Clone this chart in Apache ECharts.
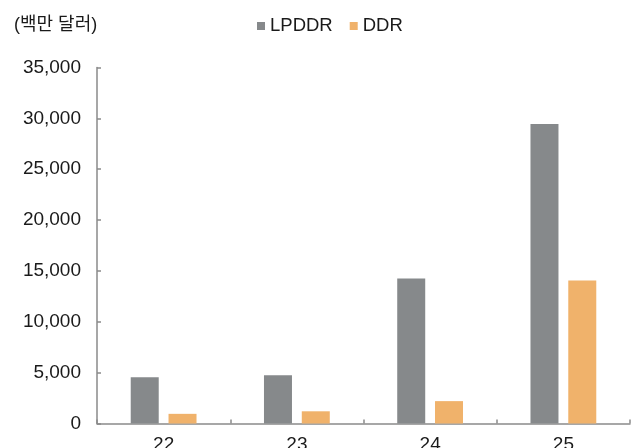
<!DOCTYPE html>
<html>
<head>
<meta charset="utf-8">
<script src="https://cdn.jsdelivr.net/npm/echarts@6/dist/echarts.min.js"></script>
<style>
html,body{margin:0;padding:0;background:#fff;}
#c{width:639px;height:448px;}
</style>
</head>
<body>
<div id="c"></div>
<script>
const categories = ['22', '23', '24', '25'];
const lpddr = [4550, 4750, 14250, 29450];
const ddr = [950, 1200, 2200, 14050];
const yTicks = [0, 5000, 10000, 15000, 20000, 25000, 30000, 35000];
const unitLabel = '(백만 달러)';
const seriesNames = ['LPDDR', 'DDR'];

const FONT = "'Liberation Sans', 'Noto Sans CJK KR', sans-serif";
const chart = echarts.init(document.getElementById('c'), null, {renderer: 'canvas'});
chart.setOption({
  animation: false,
  backgroundColor: '#ffffff',
  title: {
    text: unitLabel,
    left: 9,
    top: 11,
    textStyle: {fontFamily: FONT, fontSize: 18, fontWeight: 'normal', color: '#1a1a1a'}
  },
  legend: {
    data: seriesNames,
    left: 252,
    top: 11,
    icon: 'rect',
    itemWidth: 8,
    itemHeight: 8,
    itemGap: 17,
    textStyle: {fontFamily: FONT, fontSize: 18.5, color: '#1a1a1a', lineHeight: 20}
  },
  grid: {left: 97, right: 9, top: 67.5, bottom: 24.5, containLabel: false, outerBoundsMode: 'none'},
  xAxis: {
    type: 'category',
    data: categories,
    axisLine: {lineStyle: {color: '#8a8a8a', width: 1.5}},
    axisTick: {show: true, inside: true, length: 4, lineStyle: {color: '#8a8a8a', width: 1.5}},
    axisLabel: {fontFamily: FONT, fontSize: 19, color: '#1a1a1a', margin: 12}
  },
  yAxis: {
    type: 'value',
    min: yTicks[0],
    max: yTicks[yTicks.length - 1],
    interval: yTicks[1] - yTicks[0],
    axisLine: {show: true, lineStyle: {color: '#8a8a8a', width: 1.5}},
    axisTick: {show: true, inside: true, length: 4, lineStyle: {color: '#8a8a8a', width: 1.5}},
    splitLine: {show: false},
    axisLabel: {
      fontFamily: FONT, fontSize: 19, color: '#1a1a1a', margin: 16,
      formatter: v => v.toLocaleString('en-US')
    }
  },
  series: [
    {name: seriesNames[0], type: 'bar', data: lpddr, barWidth: 28, barGap: '35%',
     itemStyle: {color: '#86898b'}},
    {name: seriesNames[1], type: 'bar', data: ddr, barWidth: 28,
     itemStyle: {color: '#f0b26b'}}
  ]
});
</script>
</body>
</html>
